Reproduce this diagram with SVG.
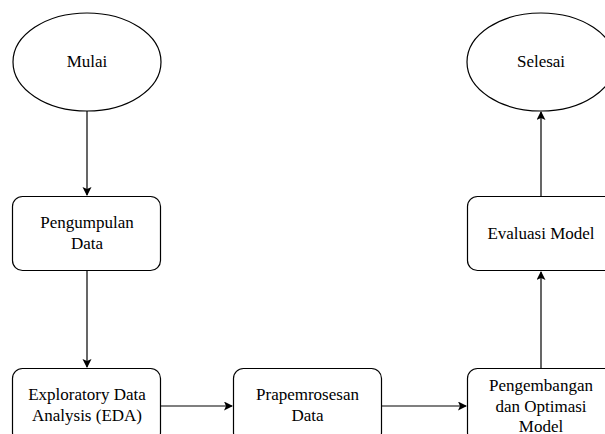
<svg xmlns="http://www.w3.org/2000/svg" width="605" height="434" viewBox="0 0 605 434">
<defs>
<style>
.n{fill:#fff;stroke:#000;stroke-width:1.2}
.t{font-size:17px;fill:#000;text-anchor:middle}
.c{fill:none;stroke:#000;stroke-width:1.2}
</style>
<marker id="a" markerWidth="10" markerHeight="10" refX="8" refY="4.5" orient="auto" markerUnits="userSpaceOnUse">
<path d="M0,0 L9,4.5 L0,9 L2,4.5 Z" fill="#000"/>
</marker>
</defs>
<rect width="605" height="434" fill="#fff"/>
<g id="connectors">
<line class="c" x1="87" y1="111" x2="87" y2="195" marker-end="url(#a)"/>
<line class="c" x1="87" y1="271" x2="87" y2="367" marker-end="url(#a)"/>
<line class="c" x1="161" y1="406" x2="232" y2="406" marker-end="url(#a)"/>
<line class="c" x1="382" y1="406" x2="466" y2="406" marker-end="url(#a)"/>
<line class="c" x1="541" y1="368" x2="541" y2="272" marker-end="url(#a)"/>
<line class="c" x1="541" y1="196" x2="541" y2="112" marker-end="url(#a)"/>
</g>
<g font-family="'Liberation Serif', 'DejaVu Serif', serif">
<g id="mulai">
<ellipse class="n" cx="87" cy="62" rx="74" ry="49"/>
<text class="t" x="87" y="67">Mulai</text>
</g>
<g id="selesai">
<ellipse class="n" cx="541" cy="62" rx="74" ry="49"/>
<text class="t" x="541" y="67">Selesai</text>
</g>
<g id="pengumpulan">
<rect class="n" x="12.5" y="196.5" width="148" height="74" rx="10"/>
<text class="t" x="87" y="228">Pengumpulan</text>
<text class="t" x="87" y="249">Data</text>
</g>
<g id="evaluasi">
<rect class="n" x="467.5" y="196.5" width="148" height="74" rx="10"/>
<text class="t" x="541" y="239">Evaluasi Model</text>
</g>
<g id="eda">
<rect class="n" x="12.5" y="368.5" width="148" height="74" rx="10"/>
<text class="t" x="87" y="400">Exploratory Data</text>
<text class="t" x="87" y="421">Analysis (EDA)</text>
</g>
<g id="prapemrosesan">
<rect class="n" x="233.5" y="368.5" width="148" height="74" rx="10"/>
<text class="t" x="307.5" y="400">Prapemrosesan</text>
<text class="t" x="307.5" y="421">Data</text>
</g>
<g id="pengembangan">
<rect class="n" x="467.5" y="368.5" width="148" height="74" rx="10"/>
<text class="t" x="541" y="391">Pengembangan</text>
<text class="t" x="541" y="412">dan Optimasi</text>
<text class="t" x="541" y="432">Model</text>
</g>
</g>
</svg>
